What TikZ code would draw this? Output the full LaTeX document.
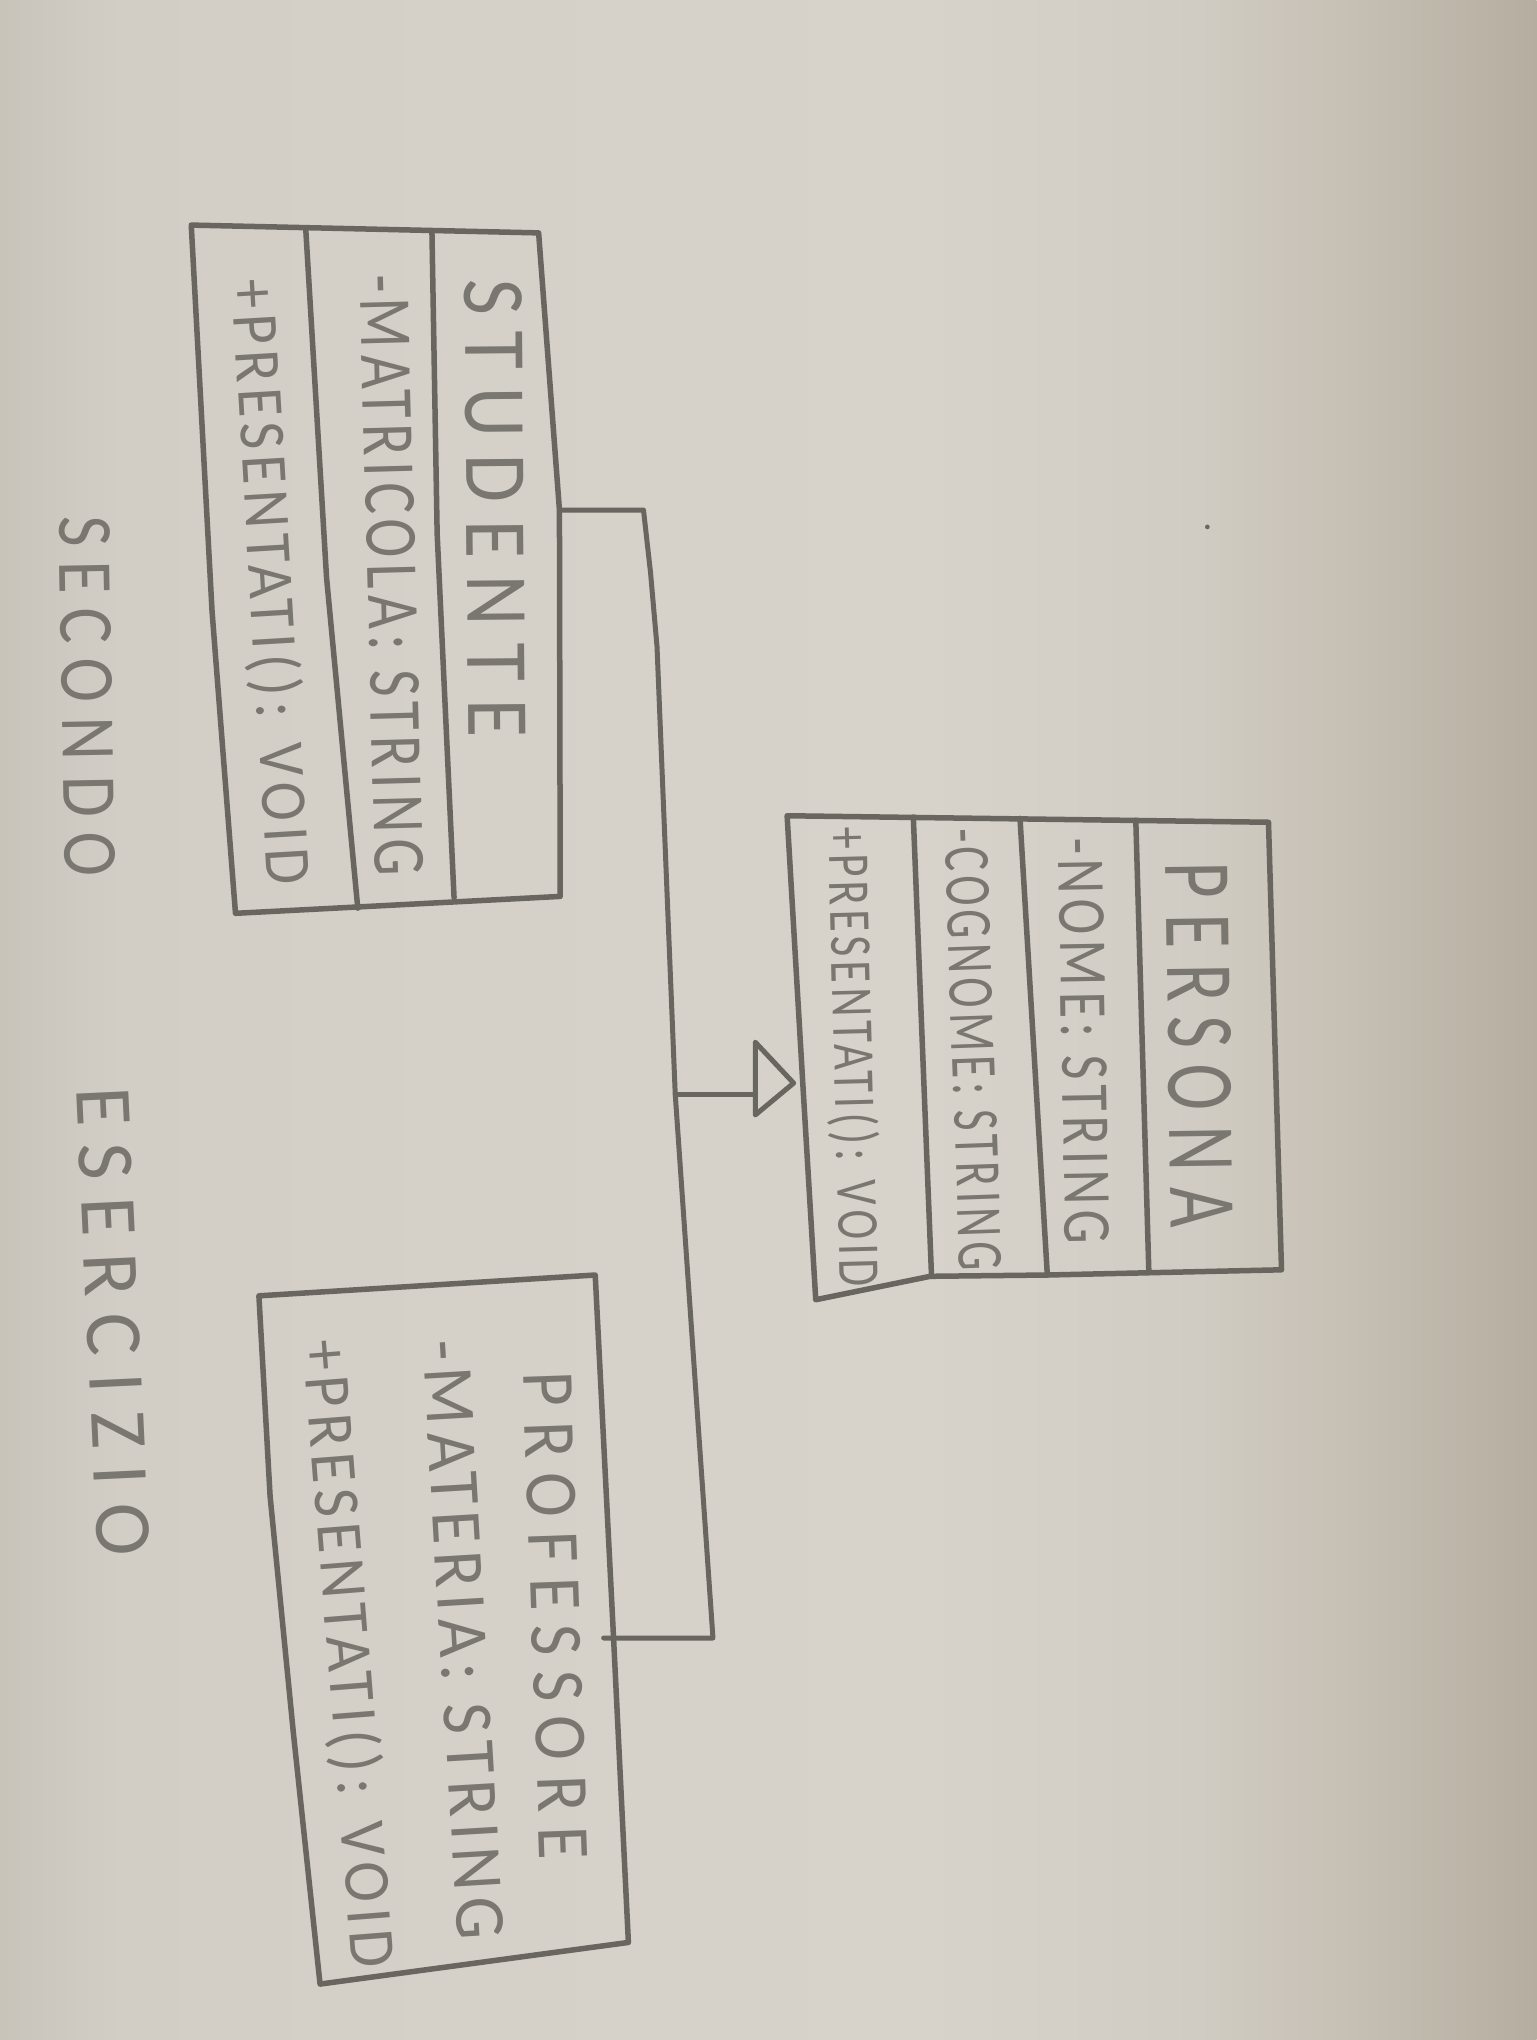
\documentclass[tikz,border=0pt]{standalone}
\usepackage{fontspec}
\usepackage{graphicx}
\newfontfamily\hand{Carlito}[LetterSpace=10]
\newfontfamily\handwide{Carlito}[LetterSpace=22]
\definecolor{pencil}{HTML}{69655F}
\definecolor{ink}{HTML}{7A7670}
\definecolor{pA}{HTML}{C9C4BA}
\definecolor{pA2}{HTML}{D2CEC6}
\definecolor{pB}{HTML}{D5D1C9}
\definecolor{pC}{HTML}{D7D3CB}
\definecolor{pD}{HTML}{D1CCC3}
\definecolor{pE}{HTML}{C3BDB1}
\definecolor{pF}{HTML}{B5AEA0}
\pgfdeclarehorizontalshading{paper}{100bp}{color(0bp)=(pA); color(25bp)=(pA); color(29bp)=(pA2); color(40bp)=(pB); color(55bp)=(pC); color(64bp)=(pD); color(70bp)=(pE); color(75bp)=(pF); color(100bp)=(pF)}
\newcommand{\hw}[3]{\resizebox*{#1pt}{#2pt}{\hand\smash{#3}\rule{0pt}{\fontcharht\font`\E}}}
\newcommand{\hwb}[3]{\resizebox*{#1pt}{#2pt}{\handwide\smash{#3}\rule{0pt}{\fontcharht\font`\E}}}
\begin{document}
\begin{tikzpicture}[x=1.3006pt,y=-1.3006pt,
  box/.style={draw=pencil,line width=5.5pt,line join=round,line cap=round},
  conn/.style={draw=pencil,line width=5pt,line join=round,line cap=round},
  lbl/.style={inner sep=0pt,outer sep=0pt,text=ink,anchor=center}]
\useasboundingbox (0,0) rectangle (1181,1568);
\shade[shading=paper] (0,0) rectangle (1181,1568);

% ---------- STUDENTE box
\coordinate (sTL) at (147,173);
\coordinate (sTR) at (414,179);
\coordinate (stuR) at (430,392);
\coordinate (sBR) at (430.6,689);
\coordinate (sBL) at (181,702);
\coordinate (sLm) at (163,470);
\draw[box] (sTL) -- (sTR) -- (stuR) -- (sBR) -- (sBL) -- (sLm) -- cycle;
\draw[box] (235,176) -- (251,444) -- (275,698);
\draw[box] (332,178) -- (336,410) -- (349,690);

% ---------- PERSONA box
\coordinate (pTL) at (605,627);
\coordinate (pTR) at (975,632);
\coordinate (pBR) at (985,976);
\coordinate (pB1) at (805,980);
\coordinate (pB2) at (715,981);
\coordinate (pBL) at (627,999);
\coordinate (perL) at (617,832);
\draw[box] (pTL) -- (pTR) -- (pBR) -- (pB1) -- (pB2) -- (pBL) -- (perL) -- cycle;
\draw[box] (702,628) -- (716,981);
\draw[box] (784,629) -- (805,980);
\draw[box] (873,630.5) -- (883,976.5);

% ---------- PROFESSORE box
\coordinate (rTL) at (199,996);
\coordinate (rTR) at (457.5,980);
\coordinate (proR) at (471.6,1259);
\coordinate (rBR) at (483,1493);
\coordinate (rBL) at (246,1525);
\coordinate (rL1) at (225.5,1332);
\coordinate (rL2) at (207.6,1150);
\draw[box] (rTL) -- (rTR) -- (proR) -- (rBR) -- (rBL) -- (rL1) -- (rL2) -- cycle;

% ---------- texts
\node[lbl,rotate=-89.5] (stuName) at (380.6,390.6) {\hwb{458}{57}{STUDENTE}};
\node[lbl,rotate=-88.5] (stuAttr) at (301,442) {\hw{601}{48}{-MATRICOLA: STRING}};
\node[lbl,rotate=-86.6] (stuOp) at (208,447) {\hw{606}{42}{+PRESENTATI(): VOID}};
\node[lbl,rotate=-89.2] (perName) at (922,803) {\hwb{365}{62}{PERSONA}};
\node[lbl,rotate=-89] (perAttrA) at (833,800) {\hw{406}{44}{-NOME: STRING}};
\node[lbl,rotate=-88] (perAttrB) at (748,806.5) {\hw{442}{42}{-COGNOME: STRING}};
\node[lbl,rotate=-88.5] (perOp) at (656,812.5) {\hw{460}{38}{+PRESENTATI(): VOID}};
\node[lbl,rotate=-88] (proName) at (427,1242) {\hwb{488}{48}{PROFESSORE}};
\node[lbl,rotate=-86.6] (proAttr) at (356,1260.5) {\hw{600}{46}{-MATERIA: STRING}};
\node[lbl,rotate=-85.5] (proOp) at (268,1271) {\hw{630}{42}{+PRESENTATI(): VOID}};
\node[lbl,rotate=-89] (titleA) at (67,535) {\hwb{360}{50}{SECONDO}};
\node[lbl,rotate=-87.3] (titleB) at (87,1016) {\hwb{469}{52}{ESERCIZIO}};

% ---------- connectors (generalisation)
\coordinate (jA) at (494.6,392);
\coordinate (jB) at (500,440);
\coordinate (jC) at (505,497);
\coordinate (junc) at (519,841);
\coordinate (jD) at (548,1259);
\coordinate (proIn) at (464,1259);
\coordinate (triBase) at (580.5,841);
\coordinate (triTop) at (580.5,801);
\coordinate (triBot) at (580.5,857);
\coordinate (triTip) at (610,832.5);
\draw[conn] (stuR) -- (jA) -- (jB) -- (jC) -- (junc) -- (jD) -- (proIn);
\draw[conn] (junc) -- (triBase);
\draw[conn] (triTop) -- (triTip) -- (triBot) -- cycle;

% stray pencil dot
\fill[pencil] (928,405) circle (1.8);
\end{tikzpicture}
\end{document}
